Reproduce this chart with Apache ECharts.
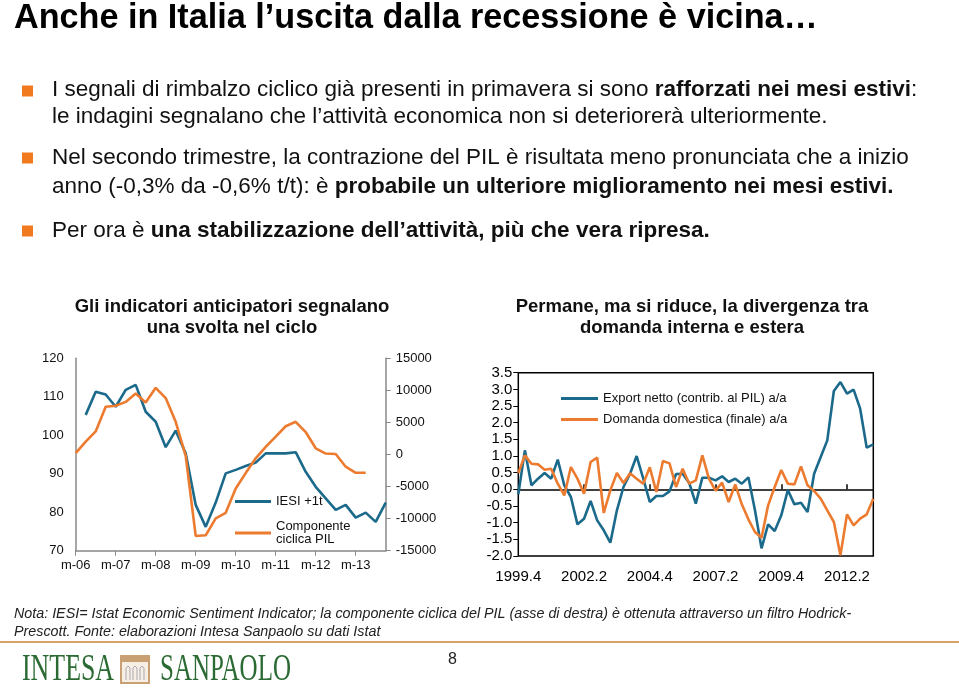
<!DOCTYPE html>
<html><head><meta charset="utf-8">
<script src="https://cdn.jsdelivr.net/npm/echarts@6/dist/echarts.min.js"></script>
<style>html,body{margin:0;padding:0;background:#fff}#c{width:959px;height:691px}</style>
</head><body><div id="c"></div>
<script>
// ---- Left chart data (quarterly, starting 2006 Q1) ----
const leftTickLabels = ['m-06','m-07','m-08','m-09','m-10','m-11','m-12','m-13'];
const leftQuarters = 32;
const iesi = [null,105.3,111.3,110.6,107.4,111.8,113.1,106.1,103.5,96.9,101.2,95.3,81.9,76.2,82.5,90.1,91.0,92.0,92.9,95.3,95.3,95.3,95.6,90.5,86.6,83.6,80.6,81.9,78.6,79.9,77.5,82.5];
const compPil = [200,2000,3600,7450,7600,8200,9500,8100,10400,8800,5100,-200,-12700,-12600,-9950,-9100,-5300,-2900,-600,1200,2800,4400,5100,3500,970,150,80,-1900,-2850,-2850];

// ---- Right chart data (quarterly, 1999.4 .. 2013.2) ----
const rightStartYear = 1999, rightStartQ = 4, rightQuarters = 55;
const exportNetto = [-0.15,1.17,0.12,0.32,0.49,0.32,0.89,0.12,-0.23,-1.05,-0.88,-0.35,-0.93,-1.23,-1.6,-0.63,0.07,0.47,1.0,0.33,-0.38,-0.2,-0.2,-0.06,0.46,0.47,0.19,-0.43,0.35,0.35,0.27,0.39,0.22,0.32,0.17,0.36,-0.63,-1.77,-1.05,-1.25,-0.78,-0.02,-0.45,-0.4,-0.68,0.47,0.97,1.47,2.95,3.22,2.87,2.99,2.42,1.25,1.35];
const domandaDom = [0.49,1.02,0.77,0.75,0.59,0.62,0.17,-0.18,0.67,0.32,-0.13,0.82,0.95,-0.71,-0.03,0.49,0.19,0.48,0.32,0.17,0.66,-0.08,0.85,0.78,0.07,0.62,0.17,0.27,1.02,0.32,-0.04,0.2,-0.38,0.15,-0.45,-0.9,-1.28,-1.45,-0.48,0.07,0.58,0.17,0.15,0.69,0.12,-0.05,-0.28,-0.63,-0.98,-1.98,-0.75,-1.08,-0.88,-0.75,-0.28];

const leftCats = [];
for (let i = 0; i < leftQuarters; i++) leftCats.push('T' + i);
const rightCats = [];
{ let y = rightStartYear, q = rightStartQ;
  for (let i = 0; i < rightQuarters; i++) { rightCats.push(y + '.' + q); q++; if (q > 4) { q = 1; y++; } } }

const FF = '"Liberation Sans", Arial, sans-serif';
const BLUE = '#1b6a8c', ORANGE = '#ec7b2f';

function rich(size, extra) {
  return { b: Object.assign({ fontSize: size, fontFamily: FF, fontWeight: 'bold', fill: '#111' }, extra || {}) };
}
function txt(x, y, text, size, opts) {
  opts = opts || {};
  return { type: 'text', x: x, y: y, silent: true, style: {
    text: text, fontSize: size, fontFamily: FF, fontWeight: opts.weight || 'normal', fontStyle: opts.style || 'normal',
    fill: opts.fill || '#111', align: opts.align || 'left', verticalAlign: 'middle',
    rich: rich(size, opts.richExtra) } };
}
function bullet(y) {
  return { type: 'rect', shape: { x: 22, y: y - 5.5, width: 11, height: 11 }, style: { fill: '#f27a1e' }, silent: true };
}

const BS = 22.5;
const graphics = [
  txt(14, 19, 'Anche in Italia l’uscita dalla recessione è vicina…', 34.2, { weight: 'bold', fill: '#000' }),
  bullet(91),
  txt(52, 90, 'I segnali di rimbalzo ciclico già presenti in primavera si sono {b|rafforzati nei mesi estivi}:', BS),
  txt(52, 117, 'le indagini segnalano che l’attività economica non si deteriorerà ulteriormente.', BS),
  bullet(158),
  txt(52, 158, 'Nel secondo trimestre, la contrazione del PIL è risultata meno pronunciata che a inizio', BS),
  txt(52, 187, 'anno (-0,3% da -0,6% t/t): è {b|probabile un ulteriore miglioramento nei mesi estivi.}', BS),
  bullet(231),
  txt(52, 231, 'Per ora è {b|una stabilizzazione dell’attività, più che vera ripresa.}', BS),
  txt(232, 307, 'Gli indicatori anticipatori segnalano', 18.5, { weight: 'bold', align: 'center' }),
  txt(232, 328, 'una svolta nel ciclo', 18.5, { weight: 'bold', align: 'center' }),
  txt(692, 307, 'Permane, ma si riduce, la divergenza tra', 18.5, { weight: 'bold', align: 'center' }),
  txt(692, 328, 'domanda interna e estera', 18.5, { weight: 'bold', align: 'center' }),
  txt(14, 614, 'Nota: IESI= Istat Economic Sentiment Indicator; la componente ciclica del PIL (asse di destra) è ottenuta attraverso un filtro Hodrick-', 14.3, { style: 'italic', fill: '#222' }),
  txt(14, 632, 'Prescott. Fonte: elaborazioni Intesa Sanpaolo su dati Istat', 14.3, { style: 'italic', fill: '#222' }),
  { type: 'line', shape: { x1: 0, y1: 642, x2: 959, y2: 642 }, style: { stroke: '#d8a06c', lineWidth: 2 }, silent: true },
  txt(448, 660, '8', 16, { fill: '#222' }),
  { type: 'text', x: 22, y: 670, scaleX: 0.7, silent: true, style: { text: 'INTESA', fontSize: 37, fontFamily: '"Liberation Serif", serif', fill: '#2b6b33', verticalAlign: 'middle' } },
  { type: 'rect', shape: { x: 121, y: 656, width: 28, height: 27 }, style: { fill: '#f7efe3', stroke: '#c9a074', lineWidth: 2 }, silent: true },
  { type: 'rect', shape: { x: 121, y: 656, width: 28, height: 6 }, style: { fill: '#c9a074' }, silent: true },
  { type: 'polyline', shape: { points: [[126,680],[126,668],[128,666],[130,668],[130,680]] }, style: { stroke: '#a9a9b5', fill: 'none', lineWidth: 1 }, silent: true },
  { type: 'polyline', shape: { points: [[133,680],[133,668],[135,666],[137,668],[137,680]] }, style: { stroke: '#a9a9b5', fill: 'none', lineWidth: 1 }, silent: true },
  { type: 'polyline', shape: { points: [[140,680],[140,668],[142,666],[144,668],[144,680]] }, style: { stroke: '#a9a9b5', fill: 'none', lineWidth: 1 }, silent: true },
  { type: 'text', x: 160, y: 670, scaleX: 0.675, silent: true, style: { text: 'SANPAOLO', fontSize: 37, fontFamily: '"Liberation Serif", serif', fill: '#2b6b33', verticalAlign: 'middle' } }
];

const chart = echarts.init(document.getElementById('c'), null, { renderer: 'canvas' });
chart.setOption({
  animation: false,
  backgroundColor: '#fff',
  textStyle: { fontFamily: FF },
  graphic: graphics,
  grid: [
    { left: 75.7, top: 358.3, width: 310, height: 192.4 },
    { left: 518.3, top: 372.7, width: 355, height: 183.3, show: true, borderColor: '#000', borderWidth: 1.5, backgroundColor: 'transparent' }
  ],
  legend: [
    { orient: 'vertical', left: 235, top: 495, padding: 0, itemWidth: 36, itemHeight: 3, itemGap: 12, icon: 'rect',
      textStyle: { fontSize: 13, color: '#111', fontFamily: FF }, data: ['IESI +1t', 'Componente\nciclica PIL'] },
    { orient: 'vertical', left: 561, top: 392, padding: 0, itemWidth: 37, itemHeight: 3, itemGap: 8, icon: 'rect',
      textStyle: { fontSize: 13, color: '#111', fontFamily: FF }, data: ['Export netto (contrib. al PIL) a/a', 'Domanda domestica (finale) a/a'] }
  ],
  xAxis: [
    { gridIndex: 0, type: 'category', data: leftCats, boundaryGap: false,
      axisLine: { onZero: false, lineStyle: { color: '#888', width: 1.5 } },
      axisTick: { interval: 3, length: 5, lineStyle: { color: '#888' } },
      axisLabel: { interval: 3, fontSize: 13, color: '#111', margin: 8,
        formatter: (v, idx) => idx % 4 === 0 ? (leftTickLabels[idx / 4] || '') : '' },
      splitLine: { show: false } },
    { gridIndex: 1, type: 'category', data: rightCats, boundaryGap: false,
      axisLine: { show: false, onZero: false }, axisTick: { show: false },
      axisLabel: { interval: 9, fontSize: 15, color: '#000', margin: 13 }, splitLine: { show: false } },
    { gridIndex: 1, type: 'category', data: rightCats, boundaryGap: false,
      axisLine: { show: true, onZero: true, lineStyle: { color: '#000', width: 1.5 } },
      axisTick: { show: true, interval: 9, length: 5, lineStyle: { color: '#000', width: 1.5 } },
      axisLabel: { show: false }, splitLine: { show: false } }
  ],
  yAxis: [
    { gridIndex: 0, type: 'value', position: 'left', min: 70, max: 120, interval: 10,
      axisLine: { show: true, lineStyle: { color: '#888', width: 1.5 } }, axisTick: { show: false },
      axisLabel: { fontSize: 13, color: '#111', margin: 12 }, splitLine: { show: false } },
    { gridIndex: 0, type: 'value', position: 'right', min: -15000, max: 15000, interval: 5000,
      axisLine: { show: true, lineStyle: { color: '#888', width: 1.5 } },
      axisTick: { show: true, length: 5, lineStyle: { color: '#888' } },
      axisLabel: { fontSize: 13, color: '#111', margin: 10, formatter: v => String(v) }, splitLine: { show: false } },
    { gridIndex: 1, type: 'value', min: -2, max: 3.5, interval: 0.5,
      axisLine: { show: false }, axisTick: { show: true, length: 5, lineStyle: { color: '#000' } },
      axisLabel: { fontSize: 15, color: '#000', margin: 6, formatter: v => v.toFixed(1) }, splitLine: { show: false } }
  ],
  series: [
    { name: 'IESI +1t', type: 'line', xAxisIndex: 0, yAxisIndex: 0, data: iesi, symbol: 'none',
      lineStyle: { color: BLUE, width: 2.6 }, itemStyle: { color: BLUE } },
    { name: 'Componente\nciclica PIL', type: 'line', xAxisIndex: 0, yAxisIndex: 1, data: compPil, symbol: 'none',
      lineStyle: { color: ORANGE, width: 2.6 }, itemStyle: { color: ORANGE } },
    { name: 'Export netto (contrib. al PIL) a/a', type: 'line', xAxisIndex: 1, yAxisIndex: 2, data: exportNetto, symbol: 'none',
      lineStyle: { color: BLUE, width: 2.6 }, itemStyle: { color: BLUE } },
    { name: 'Domanda domestica (finale) a/a', type: 'line', xAxisIndex: 1, yAxisIndex: 2, data: domandaDom, symbol: 'none',
      lineStyle: { color: ORANGE, width: 2.6 }, itemStyle: { color: ORANGE } }
  ]
});
</script></body></html>
